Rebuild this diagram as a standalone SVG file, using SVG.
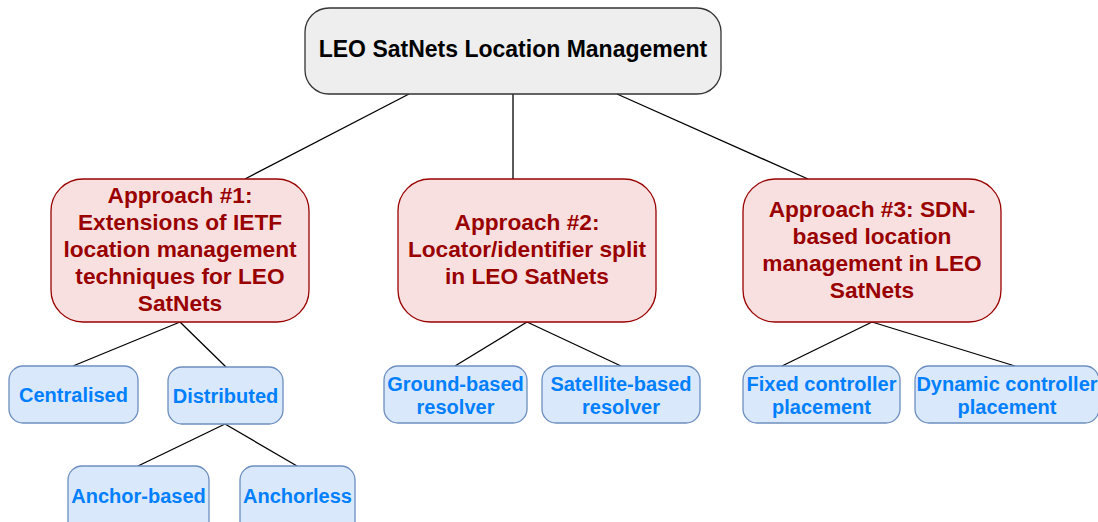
<svg xmlns="http://www.w3.org/2000/svg" width="1098" height="522" viewBox="0 0 1098 522">
<style>
.root{fill:#eeeeee;stroke:#333333;stroke-width:1.3}
.appr{fill:#f9e0e0;stroke:#990000;stroke-width:1.3}
.leaf{fill:#dae8fc;stroke:#6c8ebf;stroke-width:1.3}
text{font-family:"Liberation Sans",Arial,sans-serif;font-weight:bold;text-anchor:middle}
.rt{font-size:23px;fill:#000000}
.at{font-size:22.7px;fill:#990000}
.lt{font-size:20px;fill:#007fff}
#connectors line{stroke:#000000;stroke-width:1.3}
</style>
<rect width="1098" height="522" fill="#ffffff"/>
<g id="connectors">
<line x1="409" y1="94" x2="245" y2="179"/>
<line x1="513" y1="94" x2="513" y2="179"/>
<line x1="617" y1="94" x2="808" y2="179"/>
<line x1="180" y1="322" x2="73" y2="366"/>
<line x1="180" y1="322" x2="226" y2="367"/>
<line x1="225" y1="424" x2="138" y2="466"/>
<line x1="225" y1="424" x2="297" y2="466"/>
<line x1="527" y1="322" x2="455" y2="366"/>
<line x1="527" y1="322" x2="621" y2="366"/>
<line x1="872" y1="322" x2="782" y2="366"/>
<line x1="872" y1="322" x2="1015" y2="366"/>
</g>
<g id="root">
<rect class="root" x="305" y="8" width="416" height="86" rx="24"/>
<text class="rt" x="513" y="57">LEO SatNets Location Management</text>
</g>
<g id="approach1">
<rect class="appr" x="51" y="179" width="258" height="143" rx="32"/>
<text class="at" x="180" y="203">Approach #1:</text>
<text class="at" x="180" y="230">Extensions of IETF</text>
<text class="at" x="180" y="257">location management</text>
<text class="at" x="180" y="284">techniques for LEO</text>
<text class="at" x="180" y="311">SatNets</text>
</g>
<g id="approach2">
<rect class="appr" x="398" y="179" width="258" height="143" rx="32"/>
<text class="at" x="527" y="230">Approach #2:</text>
<text class="at" x="527" y="257">Locator/identifier split</text>
<text class="at" x="527" y="284">in LEO SatNets</text>
</g>
<g id="approach3">
<rect class="appr" x="743" y="179" width="258" height="143" rx="32"/>
<text class="at" x="872" y="217">Approach #3: SDN-</text>
<text class="at" x="872" y="244">based location</text>
<text class="at" x="872" y="271">management in LEO</text>
<text class="at" x="872" y="298">SatNets</text>
</g>
<g id="centralised">
<rect class="leaf" x="9" y="366" width="129" height="57" rx="14"/>
<text class="lt" x="73.5" y="402">Centralised</text>
</g>
<g id="distributed">
<rect class="leaf" x="168" y="367" width="115" height="57" rx="14"/>
<text class="lt" x="225.5" y="403">Distributed</text>
</g>
<g id="anchor-based">
<rect class="leaf" x="68" y="466" width="141" height="70" rx="14"/>
<text class="lt" x="138.5" y="503">Anchor-based</text>
</g>
<g id="anchorless">
<rect class="leaf" x="240" y="466" width="115" height="70" rx="14"/>
<text class="lt" x="297.5" y="503">Anchorless</text>
</g>
<g id="ground-based">
<rect class="leaf" x="384" y="366" width="143" height="57" rx="14"/>
<text class="lt" x="455.5" y="391">Ground-based</text>
<text class="lt" x="455.5" y="414">resolver</text>
</g>
<g id="satellite-based">
<rect class="leaf" x="542" y="366" width="158" height="57" rx="14"/>
<text class="lt" x="621" y="391">Satellite-based</text>
<text class="lt" x="621" y="414">resolver</text>
</g>
<g id="fixed">
<rect class="leaf" x="743" y="366" width="157" height="57" rx="14"/>
<text class="lt" x="821.5" y="391">Fixed controller</text>
<text class="lt" x="821.5" y="414">placement</text>
</g>
<g id="dynamic">
<rect class="leaf" x="915" y="366" width="184" height="57" rx="14"/>
<text class="lt" x="1007" y="391">Dynamic controller</text>
<text class="lt" x="1007" y="414">placement</text>
</g>
</svg>
